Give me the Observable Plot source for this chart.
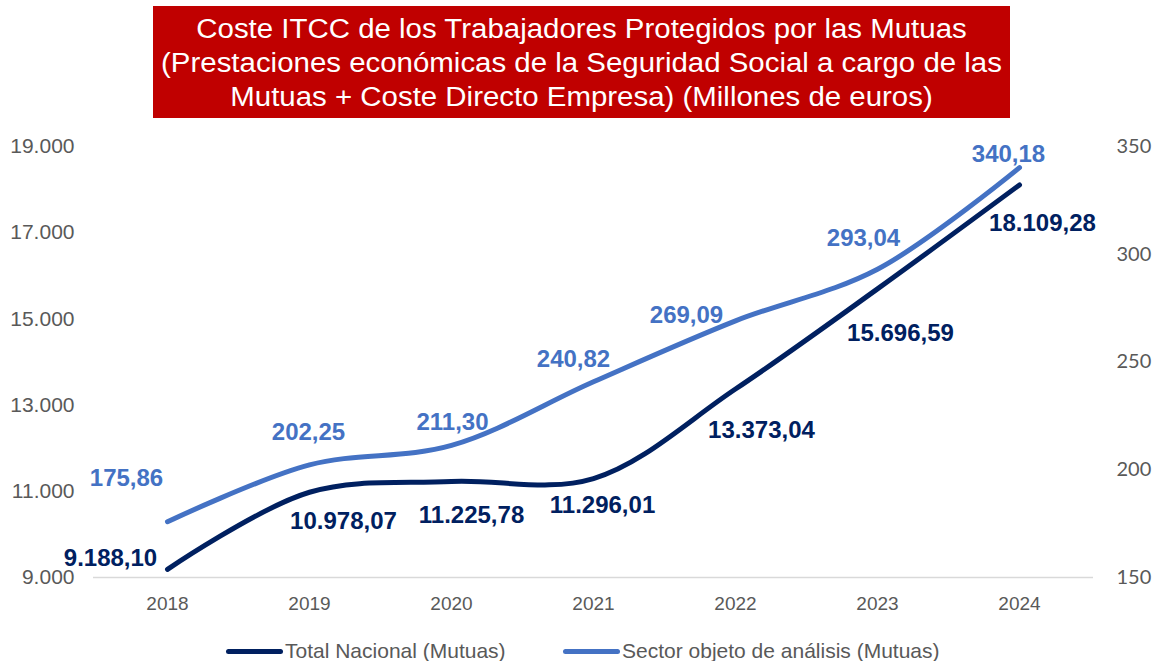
<!DOCTYPE html>
<html>
<head>
<meta charset="utf-8">
<script src="https://cdn.jsdelivr.net/npm/d3@7"></script>
<script src="https://cdn.jsdelivr.net/npm/@observablehq/plot@0.6"></script>
<style>
  html, body { margin: 0; padding: 0; background: #fff; }
  body { width: 1154px; height: 661px; overflow: hidden; font-family: "Liberation Sans", Arial, sans-serif; }
  #title {
    margin: 6px 0 0 153px; width: 857px; height: 112px; background: #C00000;
    color: #fff; text-align: center; font-size: 27px; line-height: 34px;
    box-sizing: border-box; padding-top: 6px; overflow: hidden;
  }
  #title div { transform: scaleX(1.09); transform-origin: center; white-space: nowrap; }
  #chart { margin-top: 7px; height: 500px; }
  #legend { position: relative; height: 36px; }
  .item { position: absolute; top: 14px; height: 24px; line-height: 24px; font-size: 21px; color: #595959; white-space: nowrap; }
  .sw { display: inline-block; width: 57px; height: 5px; border-radius: 3px; vertical-align: middle; margin-right: 2px; position: relative; top: -1px; }
</style>
</head>
<body>
<div id="title"></div>
<div id="chart"></div>
<div id="legend"></div>
<script>
// ---- Data ----
const years = ["2018", "2019", "2020", "2021", "2022", "2023", "2024"];
const totalNacional = [9188.10, 10978.07, 11225.78, 11296.01, 13373.04, 15696.59, 18109.28];
const sectorAnalisis = [175.86, 202.25, 211.30, 240.82, 269.09, 293.04, 340.18];
const leftTicks = [9000, 11000, 13000, 15000, 17000, 19000];
const rightTicks = [150, 200, 250, 300, 350];
const seriesNames = ["Total Nacional (Mutuas)", "Sector objeto de análisis (Mutuas)"];
const titleLines = [
  "Coste ITCC de los Trabajadores Protegidos por las Mutuas",
  "(Prestaciones económicas de la Seguridad Social a cargo de las",
  "Mutuas + Coste Directo Empresa) (Millones de euros)"
];

// ---- Layout / style (not data) ----
const colors = ["#002060", "#4472C4"];
const leftDomain = [9000, 19000];
const rightDomain = [150, 350];
const nudgeTotal = [[-57, -11], [34, 29], [20, 34], [9, 27], [26, 41], [23, 44], [23, 38]];
const nudgeSector = [[-41, -43], [-1, -33], [1, -23], [-20, -22], [-49, -6], [-14, -31], [-11, -13]];

const loc = d3.formatLocale({decimal: ",", thousands: ".", grouping: [3], currency: ["", " €"]});
const fmt2 = loc.format(",.2f");
const fmt0 = loc.format(",.0f");
const toLeft = d3.scaleLinear().domain(rightDomain).range(leftDomain);

const totalRows = years.map((year, i) => ({year, value: totalNacional[i], y: totalNacional[i]}));
const sectorRows = years.map((year, i) => ({year, value: sectorAnalisis[i], y: toLeft(sectorAnalisis[i])}));

const labelMarks = [];
totalRows.forEach((d, i) => labelMarks.push(Plot.text([d], {
  x: "year", y: "y", text: r => fmt2(r.value), dx: nudgeTotal[i][0], dy: nudgeTotal[i][1],
  fill: colors[0], fontWeight: "bold", fontSize: 24, fontFamily: "Liberation Sans, Arial, sans-serif"
})));
sectorRows.forEach((d, i) => labelMarks.push(Plot.text([d], {
  x: "year", y: "y", text: r => fmt2(r.value), dx: nudgeSector[i][0], dy: nudgeSector[i][1],
  fill: colors[1], fontWeight: "bold", fontSize: 24, fontFamily: "Liberation Sans, Arial, sans-serif"
})));

const chart = Plot.plot({
  width: 1154, height: 500,
  marginLeft: 93, marginRight: 61, marginTop: 21, marginBottom: 48,
  x: {type: "point", domain: years, padding: 0.5},
  y: {domain: leftDomain},
  style: {fontFamily: "Liberation Sans, Arial, sans-serif", fontSize: "20px", color: "#595959", background: "#fff", overflow: "visible"},
  marks: [
    Plot.ruleY([leftDomain[0]], {stroke: "#d9d9d9", strokeWidth: 1.5}),
    Plot.axisX({tickSize: 0, tickPadding: 19, fontSize: 19, fill: "#595959", label: null}),
    Plot.axisY({ticks: leftTicks, tickFormat: fmt0, tickSize: 0, tickPadding: 19, fontSize: 21, fill: "#595959", label: null}),
    Plot.axisY({anchor: "right", ticks: rightTicks.map(toLeft), tickFormat: d => String(Math.round(toLeft.invert(d))),
      tickSize: 0, tickPadding: 23, fontSize: 20, fontFamily: "Lato, sans-serif", fill: "#595959", label: null}),
    Plot.line(sectorRows, {x: "year", y: "y", stroke: colors[1], strokeWidth: 5, curve: "catmull-rom", strokeLinecap: "round"}),
    Plot.line(totalRows, {x: "year", y: "y", stroke: colors[0], strokeWidth: 5, curve: "catmull-rom", strokeLinecap: "round"}),
    ...labelMarks
  ]
});
document.getElementById("chart").appendChild(chart);

const t = document.getElementById("title");
titleLines.forEach(s => { const d = document.createElement("div"); d.textContent = s; t.appendChild(d); });

const lg = document.getElementById("legend");
const lefts = [226, 563];
seriesNames.forEach((name, i) => {
  const it = document.createElement("div");
  it.className = "item";
  it.style.left = lefts[i] + "px";
  const sw = document.createElement("span");
  sw.className = "sw";
  sw.style.background = colors[i];
  it.appendChild(sw);
  it.appendChild(document.createTextNode(name));
  lg.appendChild(it);
});
</script>
</body>
</html>
